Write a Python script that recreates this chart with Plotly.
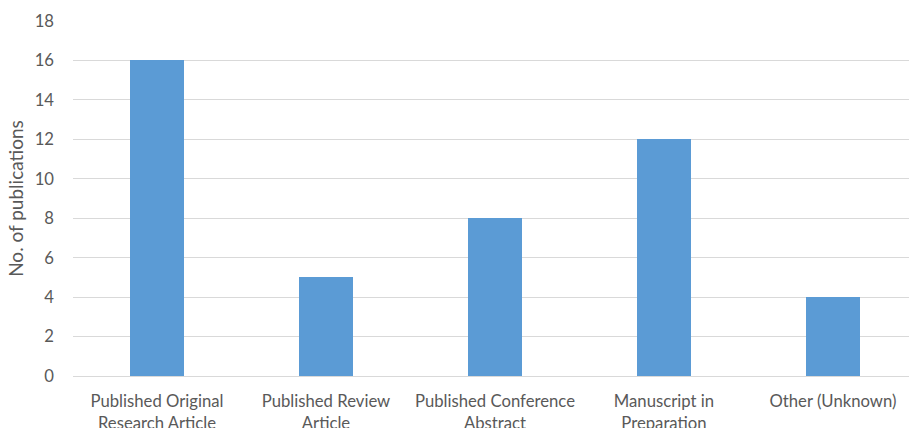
import plotly.graph_objects as go

# Publication outputs by type
categories = [
    "Published Original<br>Research Article",
    "Published Review<br>Article",
    "Published Conference<br>Abstract",
    "Manuscript in<br>Preparation",
    "Other (Unknown)",
]
counts = [16, 5, 8, 12, 4]
y_ticks = [0, 2, 4, 6, 8, 10, 12, 14, 16, 18]

FONT = "Lato, 'Open Sans', sans-serif"
TEXT = "#595959"
GRID = "#d9d9d9"
LABEL_SIZE = 16.7

fig = go.Figure(
    go.Bar(
        x=list(range(len(categories))),
        y=counts,
        width=0.315,
        marker=dict(color="#5B9BD5", line=dict(width=0)),
    )
)

fig.update_layout(
    width=909,
    height=428,
    margin=dict(l=73, r=0, t=21, b=52),
    paper_bgcolor="white",
    plot_bgcolor="white",
    showlegend=False,
    font=dict(family=FONT, color=TEXT, size=LABEL_SIZE),
    bargap=0,
)

fig.update_xaxes(
    tickmode="array",
    tickvals=list(range(len(categories))),
    ticktext=categories,
    range=[-0.497, 4.45],
    automargin=False,
    showgrid=False,
    zeroline=False,
    showline=True,
    linecolor=GRID,
    linewidth=1,
    ticks="",
    ticklabelstandoff=10,
    tickfont=dict(size=LABEL_SIZE, color=TEXT),
)

fig.update_yaxes(
    range=[0, 18],
    tickmode="array",
    tickvals=y_ticks,
    automargin=False,
    showgrid=True,
    gridcolor=GRID,
    gridwidth=1,
    zeroline=False,
    showline=False,
    ticks="",
    ticklabelstandoff=18,
    tickfont=dict(size=LABEL_SIZE, color=TEXT),
    title=dict(text="No. of publications", font=dict(size=19, color=TEXT), standoff=5),
)

fig.write_html("out.html")
